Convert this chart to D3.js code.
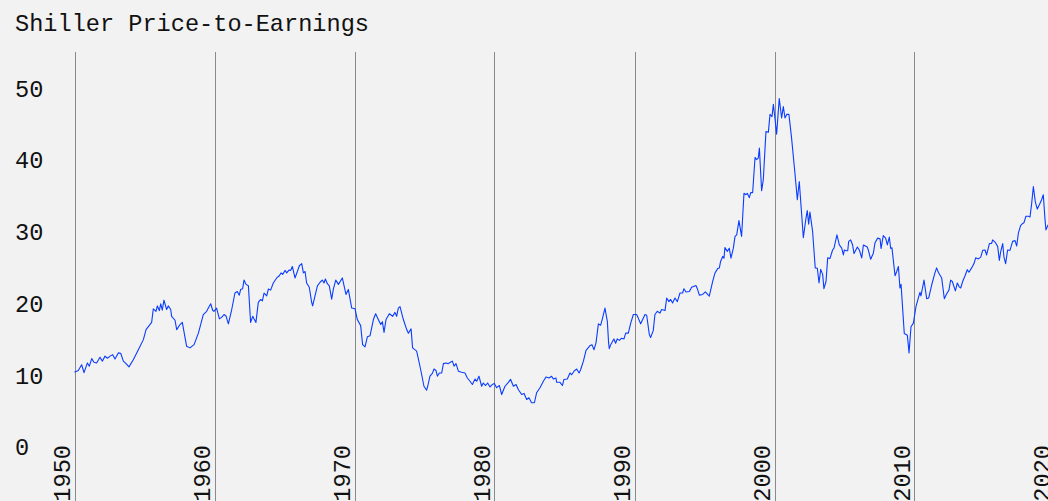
<!DOCTYPE html>
<html>
<head>
<meta charset="utf-8">
<script src="https://cdn.jsdelivr.net/npm/d3@7"></script>
<style>
  html, body { margin: 0; padding: 0; background: #f2f2f2; overflow: hidden; }
  svg { display: block; }
  text { font-family: "Liberation Mono", "DejaVu Sans Mono", monospace; fill: #111; }
</style>
</head>
<body>
<svg id="chart" width="1048" height="501"></svg>
<script>
const title = "Shiller Price-to-Earnings";
const decadeTicks = [1950, 1960, 1970, 1980, 1990, 2000, 2010, 2020];
const valueTicks = [0, 10, 20, 30, 40, 50];

// [year, CAPE]
const cape1950s = [
  [1950.00,10.35],[1950.27,10.6],[1950.51,11.4],[1950.68,10.3],[1950.92,11.65],[1951.06,11.2],
  [1951.23,12.25],[1951.39,11.75],[1951.58,11.65],[1951.82,12.44],[1951.99,11.9],[1952.18,12.6],
  [1952.35,12.3],[1952.54,12.6],[1952.73,12.8],[1952.89,12.2],[1953.13,13.05],[1953.30,13.0],
  [1953.49,11.9],[1953.68,11.55],[1953.89,11.1],[1954.20,12.1],[1954.56,13.5],[1954.92,14.9],
  [1955.11,16.3],[1955.51,17.3],[1955.63,19.2],[1955.82,18.85],[1955.92,19.6],[1956.06,18.95],
  [1956.16,19.9],[1956.27,19.0],[1956.39,20.4],[1956.58,19.1],[1956.70,19.6],[1956.87,19.1],
  [1956.94,18.15],[1957.18,17.6],[1957.30,16.3],[1957.54,17.0],[1957.70,17.3],[1958.01,13.97],
  [1958.25,13.75],[1958.54,14.2],[1958.85,15.8],[1959.20,18.4],[1959.44,18.85],[1959.56,19.3],
  [1959.73,19.9],[1959.87,19.0],[1959.96,18.85]
];
const cape1960s = [
  [1960.15,19.3],[1960.35,17.8],[1960.51,18.0],[1960.68,18.4],[1960.82,18.2],[1960.99,17.1],
  [1961.23,19.1],[1961.46,21.4],[1961.63,21.6],[1961.77,21.1],[1961.87,21.9],[1962.01,22.0],
  [1962.11,23.2],[1962.25,22.6],[1962.42,22.4],[1962.58,17.3],[1962.73,18.15],[1962.82,17.8],
  [1962.96,17.3],[1963.13,20.1],[1963.30,20.5],[1963.42,20.3],[1963.54,21.4],[1963.73,21.0],
  [1963.85,21.96],[1964.01,21.8],[1964.20,22.8],[1964.44,23.5],[1964.63,23.8],[1964.75,24.2],
  [1964.87,24.0],[1965.04,24.55],[1965.16,24.2],[1965.32,24.6],[1965.44,24.55],[1965.56,25.1],
  [1965.75,23.5],[1965.92,24.4],[1966.06,25.2],[1966.23,25.5],[1966.35,24.2],[1966.47,24.4],
  [1966.58,22.8],[1966.77,22.2],[1966.94,20.1],[1967.01,19.6],[1967.18,21.0],[1967.35,22.4],
  [1967.54,22.9],[1967.70,23.2],[1967.82,22.8],[1967.92,23.35],[1968.06,22.7],[1968.20,22.4],
  [1968.37,20.55],[1968.49,21.95],[1968.66,23.2],[1968.85,22.6],[1969.13,23.5],[1969.39,21.2],
  [1969.56,21.9],[1969.80,19.3]
];
const cape1970s = [
  [1970.04,19.2],[1970.20,17.7],[1970.44,16.85],[1970.58,14.2],[1970.75,13.9],[1970.92,15.3],
  [1971.11,15.45],[1971.35,17.7],[1971.51,18.5],[1971.70,17.7],[1971.87,17.0],[1971.99,17.4],
  [1972.11,15.9],[1972.25,17.7],[1972.49,18.5],[1972.73,18.15],[1972.89,18.7],[1973.01,18.15],
  [1973.13,19.3],[1973.25,19.5],[1973.49,17.7],[1973.73,16.3],[1973.85,15.8],[1974.04,16.4],
  [1974.15,13.75],[1974.44,13.3],[1974.73,10.7],[1974.96,8.4],[1975.15,7.85],[1975.23,8.4],
  [1975.39,9.8],[1975.56,10.2],[1975.68,10.8],[1975.82,10.6],[1975.92,9.8],[1976.06,10.25],
  [1976.23,10.25],[1976.35,11.55],[1976.54,11.65],[1976.70,11.55],[1976.82,11.7],[1976.99,11.9],
  [1977.11,11.2],[1977.25,11.55],[1977.42,10.5],[1977.65,10.35],[1977.89,10.25],[1978.06,9.55],
  [1978.25,9.1],[1978.42,8.65],[1978.61,9.4],[1978.73,9.1],[1978.89,9.8],[1979.08,8.4],
  [1979.20,8.85],[1979.37,8.5],[1979.51,8.85],[1979.68,8.3],[1979.85,8.65],[1979.99,8.8]
];
const cape1980s = [
  [1980.15,8.2],[1980.35,8.5],[1980.51,7.25],[1980.75,8.4],[1980.99,8.95],[1981.15,9.35],
  [1981.35,8.4],[1981.54,8.65],[1981.70,7.95],[1981.94,7.25],[1982.11,7.4],[1982.30,6.55],
  [1982.46,6.8],[1982.65,6.1],[1982.85,6.1],[1983.01,7.5],[1983.25,8.2],[1983.49,9.1],
  [1983.68,9.7],[1983.89,9.55],[1984.08,9.8],[1984.20,9.4],[1984.39,9.55],[1984.44,8.95],
  [1984.68,8.95],[1984.85,8.5],[1984.96,9.35],[1985.20,9.4],[1985.39,10.25],[1985.51,10.0],
  [1985.68,10.5],[1985.87,10.8],[1986.04,10.25],[1986.15,10.7],[1986.35,11.9],[1986.54,13.4],
  [1986.82,14.05],[1986.96,14.2],[1987.11,13.5],[1987.25,14.45],[1987.42,17.1],[1987.58,16.9],
  [1987.72,17.9],[1987.89,19.3],[1988.06,17.45],[1988.15,14.45],[1988.20,13.65],[1988.30,14.2],
  [1988.53,15.0],[1988.65,14.4],[1988.77,15.0],[1988.92,14.8],[1989.08,15.1],[1989.25,15.0],
  [1989.37,15.8],[1989.56,15.8],[1989.73,17.2],[1989.92,18.4]
];
const cape1990s = [
  [1990.15,18.4],[1990.27,17.9],[1990.44,17.1],[1990.75,18.4],[1990.87,18.3],[1991.06,15.6],
  [1991.15,15.2],[1991.34,16.15],[1991.46,18.4],[1991.63,18.85],[1991.82,18.6],[1991.94,19.1],
  [1992.18,18.95],[1992.30,20.7],[1992.46,20.2],[1992.58,20.5],[1992.72,20.0],[1992.89,20.7],
  [1993.06,20.2],[1993.25,21.4],[1993.44,21.4],[1993.53,22.0],[1993.68,21.55],[1993.92,21.6],
  [1994.08,22.2],[1994.39,22.45],[1994.49,22.0],[1994.63,21.1],[1994.87,21.2],[1995.06,21.55],
  [1995.34,20.95],[1995.58,23.0],[1995.75,24.2],[1995.94,24.8],[1996.06,24.9],[1996.15,25.8],
  [1996.30,26.5],[1996.39,26.25],[1996.46,27.75],[1996.63,27.2],[1996.77,27.65],[1996.89,26.25],
  [1997.06,27.65],[1997.18,29.3],[1997.30,29.5],[1997.46,31.5],[1997.65,29.3],[1997.82,35.3],
  [1997.96,35.1],[1998.06,35.3],[1998.20,34.7],[1998.30,35.4],[1998.44,35.4],[1998.61,40.3],
  [1998.72,40.0],[1998.84,40.2],[1998.92,41.6],[1999.08,35.65],[1999.20,37.2],[1999.39,43.9],
  [1999.56,43.8],[1999.68,46.3],[1999.82,46.0],[1999.92,47.7]
];
const cape2000s = [
  [2000.03,45.8],[2000.15,43.55],[2000.34,48.5],[2000.51,45.8],[2000.63,47.4],[2000.75,45.8],
  [2000.87,46.3],[2001.03,46.3],[2001.22,43.0],[2001.46,38.1],[2001.63,34.4],[2001.77,36.95],
  [2001.89,33.7],[2002.06,29.1],[2002.25,31.85],[2002.34,32.9],[2002.44,31.0],[2002.53,32.7],
  [2002.72,30.0],[2002.91,24.9],[2003.06,24.85],[2003.18,22.8],[2003.30,24.7],[2003.44,24.0],
  [2003.53,22.0],[2003.68,23.0],[2003.80,26.3],[2003.96,26.2],[2004.15,27.4],[2004.25,27.65],
  [2004.46,29.5],[2004.63,28.1],[2004.80,27.65],[2004.92,26.7],[2004.99,27.4],[2005.11,27.3],
  [2005.23,27.3],[2005.30,28.6],[2005.44,28.8],[2005.58,28.1],[2005.68,26.9],[2005.92,27.8],
  [2006.06,27.4],[2006.23,26.3],[2006.35,28.1],[2006.63,27.8],[2006.70,27.4],[2006.87,26.1],
  [2007.06,26.95],[2007.18,28.4],[2007.37,29.05],[2007.54,28.95],[2007.61,27.6],[2007.77,29.4],
  [2007.94,29.05],[2008.06,28.1],[2008.20,29.2],[2008.30,27.6],[2008.39,27.7],[2008.61,23.8],
  [2008.73,24.4],[2008.85,25.1],[2008.96,22.1],[2009.04,22.6],[2009.27,15.75],[2009.49,15.5],
  [2009.61,13.05],[2009.75,16.7],[2009.92,17.2]
];
const cape2010s = [
  [2010.11,19.55],[2010.27,20.7],[2010.39,21.5],[2010.46,21.0],[2010.68,23.2],[2010.87,20.6],
  [2011.01,20.7],[2011.23,22.55],[2011.46,24.2],[2011.58,24.9],[2011.70,24.3],[2011.94,23.5],
  [2012.13,20.6],[2012.30,21.3],[2012.46,21.8],[2012.58,23.2],[2012.70,23.0],[2012.92,21.7],
  [2013.06,22.8],[2013.18,22.3],[2013.30,22.1],[2013.44,23.0],[2013.61,23.8],[2013.77,24.65],
  [2013.89,24.3],[2014.08,24.9],[2014.25,25.5],[2014.37,26.3],[2014.56,26.15],[2014.73,26.4],
  [2014.87,27.35],[2015.04,27.4],[2015.15,26.7],[2015.35,28.3],[2015.51,28.3],[2015.58,28.8],
  [2015.75,28.5],[2015.94,27.9],[2016.06,25.95],[2016.15,27.1],[2016.30,28.3],[2016.39,26.4],
  [2016.51,25.5],[2016.65,27.4],[2016.82,27.35],[2017.01,28.6],[2017.18,28.7],[2017.30,27.95],
  [2017.42,29.75],[2017.58,30.8],[2017.73,31.1],[2017.82,31.2],[2017.96,32.1],[2018.13,32.1],
  [2018.25,32.0],[2018.37,33.9],[2018.49,36.25],[2018.63,34.1],[2018.77,33.1],[2018.92,33.7],
  [2019.08,34.4],[2019.20,35.1],[2019.32,31.7],[2019.39,30.2],[2019.54,30.9],[2019.90,30.9]
];

const series = [].concat(cape1950s, cape1960s, cape1970s, cape1980s, cape1990s, cape2000s, cape2010s);

const svg = d3.select("#chart");
const W = 1048, H = 501;

const x = d3.scaleLinear().domain([1950, 2020]).range([74.5, 1054.5]);
const y = d3.scaleLinear().domain([0, 55]).range([446.5, 52]);

svg.append("rect").attr("width", W).attr("height", H).attr("fill", "#f2f2f2");

// title
svg.append("text")
  .attr("x", 15).attr("y", 31)
  .attr("font-size", 23.6)
  .text(title);

// vertical decade gridlines + rotated labels via an axis
const xAxis = d3.axisBottom(x).tickValues(decadeTicks).tickFormat(d3.format("d")).tickSize(0);
const gx = svg.append("g").attr("transform", "translate(0,0)");
gx.selectAll("line.grid").data(decadeTicks).join("line")
  .attr("class", "grid")
  .attr("x1", d => Math.round(x(d)) + 0.5).attr("x2", d => Math.round(x(d)) + 0.5)
  .attr("y1", 52).attr("y2", H)
  .attr("stroke", "#8a8a8a").attr("stroke-width", 1);

const gxl = svg.append("g").attr("transform", `translate(0,${H})`).call(xAxis);
gxl.select(".domain").remove();
gxl.selectAll(".tick text")
  .attr("font-size", 23.6)
  .attr("font-family", "Liberation Mono, DejaVu Sans Mono, monospace")
  .attr("fill", "#111")
  .attr("text-anchor", "end")
  .attr("transform", "translate(-5,-56) rotate(-90)")
  .attr("x", 0).attr("y", 0).attr("dy", 0);

// y labels
const yAxis = d3.axisLeft(y).tickValues(valueTicks).tickSize(0);
const gy = svg.append("g").call(yAxis);
gy.select(".domain").remove();
gy.selectAll(".tick text")
  .attr("font-size", 23.6)
  .attr("font-family", "Liberation Mono, DejaVu Sans Mono, monospace")
  .attr("fill", "#111")
  .attr("text-anchor", "start")
  .attr("x", 15)
  .attr("dy", "0.35em");

// line
const line = d3.line().x(d => x(d[0])).y(d => y(d[1]));
svg.append("path")
  .datum(series)
  .attr("fill", "none")
  .attr("stroke", "#0a3cff")
  .attr("stroke-width", 1.1)
  .attr("stroke-linejoin", "round")
  .attr("d", line);
</script>
</body>
</html>
